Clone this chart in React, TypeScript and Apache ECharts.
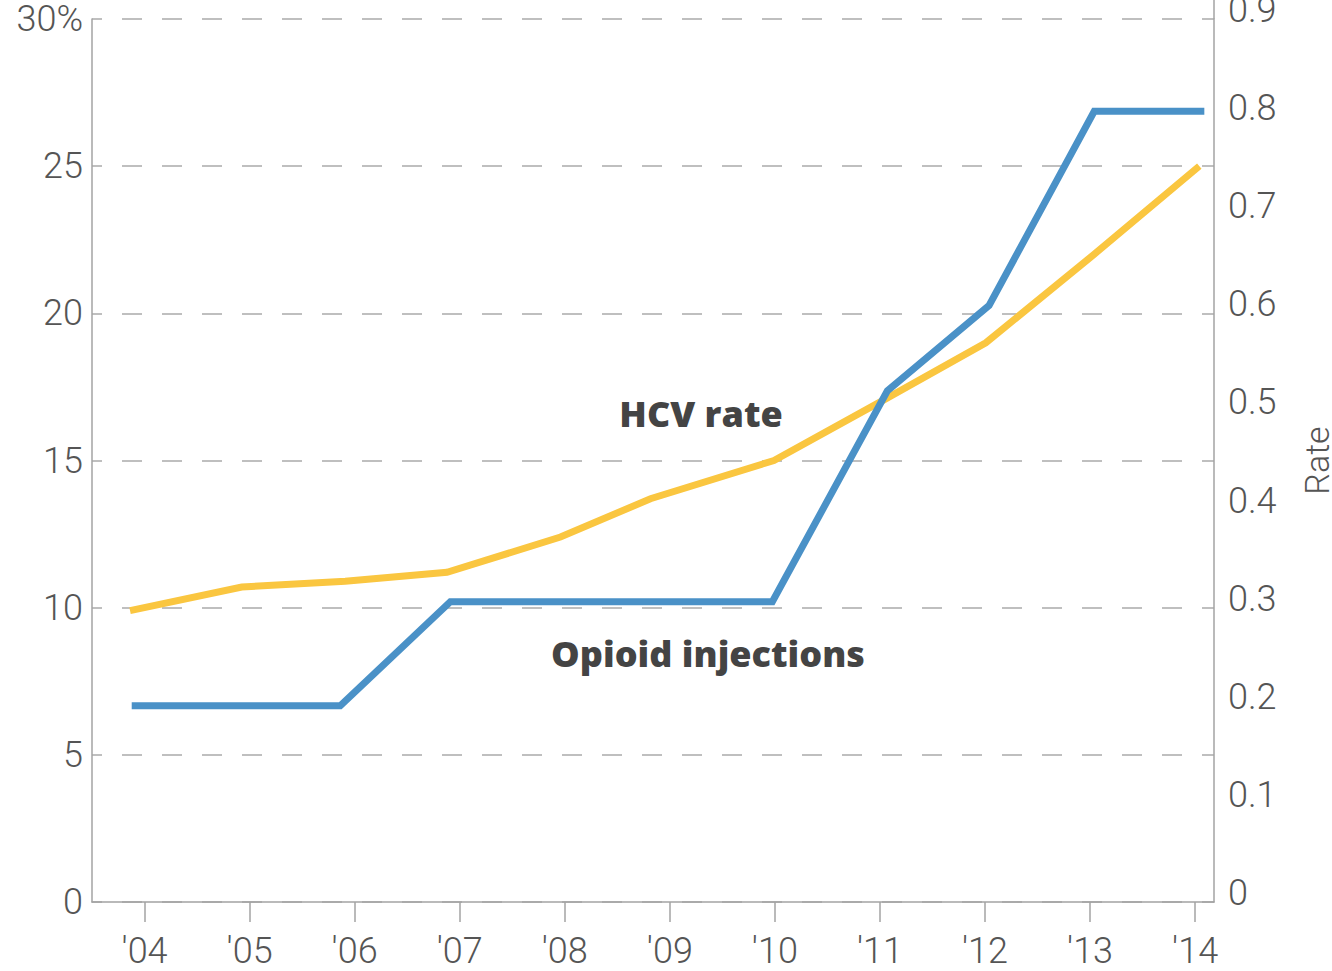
import React, { useEffect, useRef } from "react";
import * as echarts from "echarts";

// Tick positions (years) and their labels
const years = [2004, 2005, 2006, 2007, 2008, 2009, 2010, 2011, 2012, 2013, 2014];
const yearLabels = ["'04", "'05", "'06", "'07", "'08", "'09", "'10", "'11", "'12", "'13", "'14"];

// HCV rate (left axis, %) — x positions in years
const hcvX = [2003.862, 2004.926, 2005.91, 2006.879, 2007.959, 2008.816, 2009.991, 2011.008, 2012.008, 2013.037, 2014.04];
const hcvRate = [9.9, 10.7, 10.9, 11.2, 12.4, 13.7, 15.0, 17.0, 19.0, 22.0, 25.0];

// Opioid injections (right axis, rate)
const opioidX = [2003.878, 2005.863, 2006.911, 2009.976, 2011.071, 2012.039, 2013.04, 2014.088];
const opioidRate = [0.2, 0.2, 0.306, 0.306, 0.521, 0.608, 0.806, 0.806];

const leftTicks = [0, 5, 10, 15, 20, 25, 30];
const rightTicks = [0, 0.1, 0.2, 0.3, 0.4, 0.5, 0.6, 0.7, 0.8, 0.9];

const AXIS_FONT = "Roboto";
const LABEL_COLOR = "#555";
const AXIS_COLOR = "#a3a3a3";

export default function App() {
  const ref = useRef<HTMLDivElement>(null);

  useEffect(() => {
    if (!ref.current) return;
    const chart = echarts.init(ref.current, undefined, { renderer: "svg" });
    const labelMap: Record<number, string> = {};
    years.forEach((y, i) => (labelMap[y] = yearLabels[i]));

    chart.setOption({
      animation: false,
      backgroundColor: "#fff",
      grid: {
        left: 92,
        right: 118,
        top: 19,
        bottom: 69,
        containLabel: false,
        outerBoundsMode: "none",
      },
      xAxis: {
        type: "value",
        min: 2003.5,
        max: 2014.18,
        axisLine: { show: true, lineStyle: { color: AXIS_COLOR, width: 1.5 } },
        axisTick: {
          show: true,
          length: 20,
          customValues: years,
          lineStyle: { color: AXIS_COLOR, width: 1.5 },
        },
        axisLabel: {
          customValues: years,
          formatter: (v: number) => labelMap[Math.round(v)] ?? "",
          margin: 31,
          fontFamily: AXIS_FONT,
          fontWeight: 300,
          fontSize: 36,
          color: LABEL_COLOR,
        },
        splitLine: { show: false },
      },
      yAxis: [
        {
          type: "value",
          min: leftTicks[0],
          max: leftTicks[leftTicks.length - 1],
          interval: 5,
          axisLine: { show: true, lineStyle: { color: AXIS_COLOR, width: 1.5 } },
          axisTick: { show: false },
          axisLabel: {
            margin: 9,
            fontFamily: AXIS_FONT,
            fontWeight: 300,
            fontSize: 36,
            color: LABEL_COLOR,
            formatter: (v: number) => (v === 30 ? "30%" : String(v)),
          },
          splitLine: {
            show: true,
            lineStyle: { color: "#aaaaaa", width: 1.5, type: [20, 20], dashOffset: 10 },
          },
        },
        {
          type: "value",
          position: "right",
          min: rightTicks[0],
          max: rightTicks[rightTicks.length - 1],
          interval: 0.1,
          name: "Rate",
          nameLocation: "middle",
          nameGap: 86,
          nameMoveOverlap: false,
          nameTextStyle: {
            fontFamily: AXIS_FONT,
            fontWeight: 300,
            fontSize: 34,
            color: LABEL_COLOR,
          },
          axisLine: { show: true, lineStyle: { color: AXIS_COLOR, width: 1.5 } },
          axisTick: { show: false },
          axisLabel: {
            margin: 14,
            verticalAlign: "bottom",
            lineHeight: 18,
            fontFamily: AXIS_FONT,
            fontWeight: 300,
            fontSize: 36,
            color: LABEL_COLOR,
            formatter: (v: number) => (Math.abs(v) < 1e-9 ? "0" : v.toFixed(1)),
          },
          splitLine: { show: false },
        },
      ],
      series: [
        {
          name: "HCV rate",
          type: "line",
          yAxisIndex: 0,
          data: hcvX.map((x, i) => [x, hcvRate[i]]),
          showSymbol: false,
          symbol: "none",
          lineStyle: { color: "#fac640", width: 7, join: "miter", cap: "butt" },
          z: 2,
        },
        {
          name: "Opioid injections",
          type: "line",
          yAxisIndex: 1,
          data: opioidX.map((x, i) => [x, opioidRate[i]]),
          showSymbol: false,
          symbol: "none",
          lineStyle: { color: "#4a91c7", width: 7, join: "miter", cap: "butt" },
          z: 3,
        },
      ],
      graphic: [
        {
          type: "line",
          shape: { x1: 1214, y1: 0, x2: 1214, y2: 19 },
          style: { stroke: AXIS_COLOR, lineWidth: 1.5 },
        },
        {
          type: "text",
          x: 701,
          y: 413,
          style: {
            text: "HCV rate",
            fontFamily: "Open Sans",
            fontWeight: 800,
            fontSize: 36,
            fill: "#444",
            align: "center",
            verticalAlign: "middle",
          },
        },
        {
          type: "text",
          x: 708,
          y: 653,
          style: {
            text: "Opioid injections",
            fontFamily: "Open Sans",
            fontWeight: 800,
            fontSize: 36,
            fill: "#444",
            align: "center",
            verticalAlign: "middle",
          },
        },
      ],
    });

    return () => chart.dispose();
  }, []);

  return (
    <div
      ref={ref}
      style={{ position: "fixed", left: 0, top: 0, width: "1332px", height: "971px" }}
    />
  );
}
